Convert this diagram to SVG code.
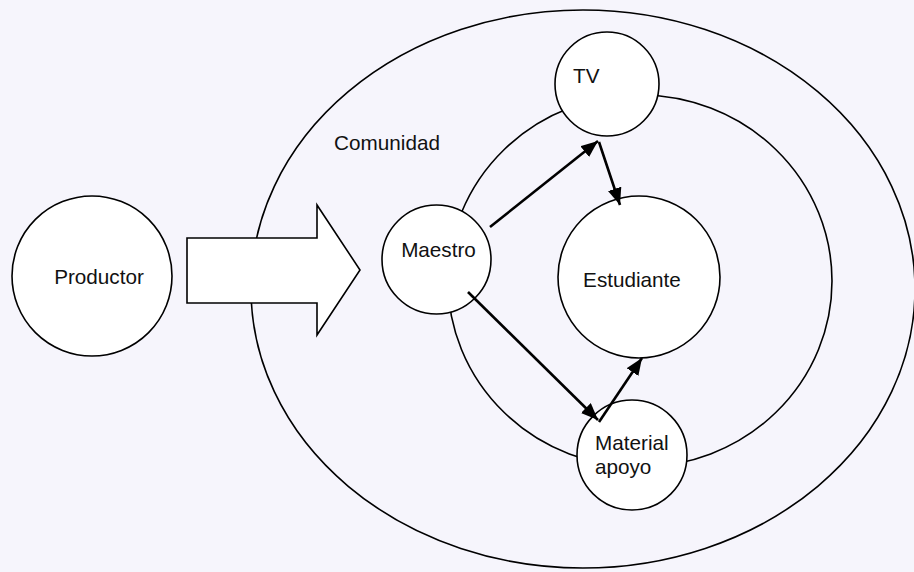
<svg xmlns="http://www.w3.org/2000/svg" width="914" height="572" viewBox="0 0 914 572">
<defs>
<style>
.shape{fill:#ffffff;stroke:#000;stroke-width:1.6}
.ring{fill:none;stroke:#000;stroke-width:1.6}
.lbl{font-family:"Liberation Sans",Arial,sans-serif;font-size:20.7px;fill:#111}
.conn{stroke:#000;stroke-width:2.6;fill:none;marker-end:url(#ah)}
</style>
<marker id="ah" markerUnits="userSpaceOnUse" markerWidth="20" markerHeight="16" refX="17" refY="7" orient="auto">
<path d="M0,0 L17,7 L0,14 Z" fill="#000"/>
</marker>
</defs>
<rect width="914" height="572" fill="#f6f5fc"/>
<g id="comunidad">
<ellipse class="ring" cx="583" cy="289" rx="332" ry="279"/>
<text class="lbl" x="387" y="150" text-anchor="middle">Comunidad</text>
</g>
<g id="flecha">
<path class="shape" d="M187,238 L317,238 L317,205 L360,270 L317,335 L317,303 L187,303 Z"/>
</g>
<g id="anillo">
<ellipse class="ring" cx="640" cy="281" rx="192" ry="186"/>
</g>
<g id="productor">
<circle class="shape" cx="92" cy="276" r="80"/>
<text class="lbl" x="99" y="284" text-anchor="middle">Productor</text>
</g>
<g id="maestro">
<circle class="shape" cx="436.5" cy="259.5" r="54.5"/>
<text class="lbl" x="438.5" y="257" text-anchor="middle">Maestro</text>
</g>
<g id="tv">
<circle class="shape" cx="607" cy="84" r="52"/>
<text class="lbl" x="573" y="83">TV</text>
</g>
<g id="estudiante">
<circle class="shape" cx="639" cy="277" r="81"/>
<text class="lbl" x="632" y="287" text-anchor="middle">Estudiante</text>
</g>
<g id="material">
<circle class="shape" cx="632" cy="455" r="55"/>
<text class="lbl" x="595" y="450">Material</text>
<text class="lbl" x="595" y="474">apoyo</text>
</g>
<g id="connectors">
<line class="conn" x1="490" y1="227" x2="598" y2="141"/>
<line class="conn" x1="599" y1="142" x2="620" y2="205"/>
<line class="conn" x1="468" y1="292" x2="598" y2="420"/>
<line class="conn" x1="599" y1="422" x2="642" y2="358"/>
</g>
</svg>
